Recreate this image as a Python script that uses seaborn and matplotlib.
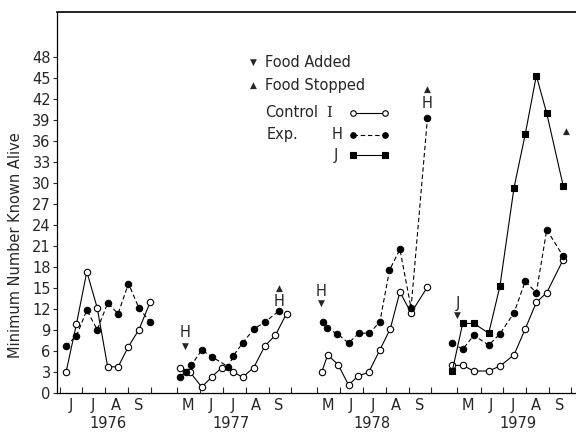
import matplotlib
matplotlib.use("Agg")
import matplotlib.pyplot as plt
import matplotlib.transforms as mtransforms
import seaborn as sns
import pandas as pd

sns.set_style("white")
plt.rcParams['font.family'] = ['DejaVu Sans']

years = [1976, 1977, 1978, 1979]
month_letters = ["M", "J", "J", "A", "S"]
yticks = list(range(0, 49, 3))

# ---- data (sampling dates MM-DD, minimum number known alive) ----
control_dates_1976 = ["06-09", "06-23", "07-07", "07-21", "08-04", "08-18", "09-01", "09-15", "09-30"]
control_1976 = [2.9, 9.8, 17.3, 12.1, 3.7, 3.7, 6.6, 9.0, 12.9]
exph_dates_1976 = ["06-09", "06-23", "07-07", "07-21", "08-04", "08-18", "09-01", "09-15", "09-30"]
exph_1976 = [6.7, 8.1, 11.8, 9.0, 12.8, 11.3, 15.6, 12.1, 10.1]

control_dates_1977 = ["05-05", "05-18", "06-03", "06-17", "06-30", "07-15", "07-28", "08-12", "08-27", "09-10", "09-25"]
control_1977 = [3.6, 3.0, 0.8, 2.3, 3.6, 3.0, 2.2, 3.6, 6.7, 8.2, 11.3]
exph_dates_1977 = ["05-05", "05-13", "05-20", "06-03", "06-17", "07-09", "07-15", "07-28", "08-12", "08-27", "09-15"]
exph_1977 = [2.3, 3.0, 3.9, 6.1, 5.1, 3.7, 5.2, 7.1, 9.1, 10.1, 11.7]

control_dates_1978 = ["05-07", "05-15", "05-29", "06-12", "06-25", "07-09", "07-24", "08-07", "08-20", "09-04", "09-26"]
control_1978 = [3.0, 5.4, 4.0, 1.1, 2.4, 2.9, 6.1, 9.1, 14.4, 11.4, 15.1]
exph_dates_1978 = ["05-08", "05-14", "05-28", "06-12", "06-26", "07-10", "07-24", "08-06", "08-20", "09-04", "09-26"]
exph_1978 = [10.1, 9.2, 8.4, 7.1, 8.5, 8.5, 10.1, 17.5, 20.5, 12.1, 39.2]

dates_1979 = ["04-24", "05-08", "05-23", "06-12", "06-27", "07-16", "07-31", "08-15", "08-29", "09-20"]
control_1979 = [3.9, 3.9, 3.1, 3.1, 3.8, 5.4, 9.1, 12.9, 14.3, 19.0]
exph_1979 = [7.1, 6.2, 8.2, 6.8, 8.4, 11.4, 15.9, 14.3, 23.3, 19.5]
expj_1979 = [3.1, 9.9, 9.9, 8.5, 15.2, 29.3, 36.9, 45.3, 39.9, 29.6]

# food events: grid, year, date, kind ("added"/"stopped"), label y, arrow y
event_grid = ["H", "H", "H", "H", "J", ""]
event_year = [1977, 1977, 1978, 1978, 1979, 1979]
event_date = ["05-12", "09-15", "05-06", "09-26", "05-01", "09-24"]
event_kind = ["added", "stopped", "added", "stopped", "added", "stopped"]
event_label_y = [8.6, 13.1, 14.4, 41.3, 12.8, None]
event_arrow_y = [6.6, 14.9, 12.7, 43.4, 11.1, 37.4]

year_label_dates = ["08-04", "07-13", "07-14", "07-21"]

YEAR_SPAN = 188.4  # axis days allotted per field season


def xpos(year, mmdd):
    d = pd.Timestamp(f"{year}-{mmdd}")
    return years.index(year) * YEAR_SPAN + (d - pd.Timestamp(f"{year}-05-01")).days


# ---- build long table ----
rows = []
def add(series, year, dates, vals):
    for d, v in zip(dates, vals):
        rows.append(dict(series=series, year=year, x=xpos(year, d), value=v))

add("Control I", 1976, control_dates_1976, control_1976)
add("Exp. H", 1976, exph_dates_1976, exph_1976)
add("Control I", 1977, control_dates_1977, control_1977)
add("Exp. H", 1977, exph_dates_1977, exph_1977)
add("Control I", 1978, control_dates_1978, control_1978)
add("Exp. H", 1978, exph_dates_1978, exph_1978)
add("Control I", 1979, dates_1979, control_1979)
add("Exp. H", 1979, dates_1979, exph_1979)
add("Exp. J", 1979, dates_1979, expj_1979)
df = pd.DataFrame(rows)

styles = {
    "Control I": dict(marker="o", markersize=4.6, markerfacecolor="white", linestyle="-"),
    "Exp. H": dict(marker="o", markersize=4.6, markerfacecolor="black", linestyle=(0, (4, 2.5))),
    "Exp. J": dict(marker="s", markersize=4.6, markerfacecolor="black", linestyle="-"),
}

fig = plt.figure(figsize=(5.76, 4.33), dpi=100)
ax = fig.add_axes([57 / 576, (433 - 392.7) / 433, (576 - 57) / 576, 380.7 / 433])

for (series, year), sub in df.groupby(["series", "year"], sort=False):
    sns.lineplot(data=sub, x="x", y="value", ax=ax, color="black", lw=0.8,
                 markeredgecolor="black", markeredgewidth=0.8,
                 sort=False, estimator=None, zorder=3, **styles[series])

# y axis
ax.set_yticks(yticks)
ax.set_yticklabels([str(t) for t in yticks], fontsize=10.5)
ax.tick_params(axis="y", direction="out", length=3, width=0.8, pad=1.5, left=True)
ax.set_ylabel("Minimum Number Known Alive", fontsize=10.5)
ax.yaxis.set_label_coords(-0.066, 0.388)

# x axis: month boundaries as ticks, month letters at mid-month
major = []
minor = []
minor_labels = []
for y in years:
    for m in range(5, 11):
        major.append(xpos(y, f"{m:02d}-01"))
    for m, lab in zip(range(5, 10), month_letters):
        minor.append(xpos(y, f"{m:02d}-15"))
        minor_labels.append(lab)
ax.set_xticks(major)
ax.set_xticklabels([])
ax.set_xticks(minor, minor=True)
ax.set_xticklabels(minor_labels, minor=True, fontsize=10.5)
ax.tick_params(axis="x", which="major", direction="in", length=4, width=0.8, bottom=True)
ax.tick_params(axis="x", which="minor", length=0, pad=4, bottom=True)
ax.set_xlabel("")

# limits after ticks (set_ticks can widen the view)
ax.set_xlim(26.9, 724.5)
ax.set_ylim(0, 54.4)

trans = mtransforms.blended_transform_factory(ax.transData, ax.transAxes)
for y, d in zip(years, year_label_dates):
    ax.text(xpos(y, d), -0.08, str(y), transform=trans, ha="center", va="center", fontsize=10.5)

# spines
for s in ["left", "bottom", "top"]:
    ax.spines[s].set_visible(True)
    ax.spines[s].set_color("black")
    ax.spines[s].set_linewidth(0.9)
ax.spines["right"].set_visible(False)
ax.spines["top"].set_linewidth(1.2)

# food events
for g, yr, d, k, ly, ay in zip(event_grid, event_year, event_date, event_kind,
                                event_label_y, event_arrow_y):
    x = xpos(yr, d)
    glyph = "\u25BC" if k == "added" else "\u25B2"
    ax.text(x, ay, glyph, ha="center", va="center", fontsize=6.5)
    if ly is not None and g:
        ax.text(x, ly, g, ha="center", va="center", fontsize=10.5)

# legend block (axes fraction)
fs = 10.5
ax.text(0.378, 0.867, "\u25BC", transform=ax.transAxes, ha="center", va="center", fontsize=6.5)
ax.text(0.401, 0.867, "Food Added", transform=ax.transAxes, ha="left", va="center", fontsize=fs)
ax.text(0.378, 0.808, "\u25B2", transform=ax.transAxes, ha="center", va="center", fontsize=6.5)
ax.text(0.401, 0.808, "Food Stopped", transform=ax.transAxes, ha="left", va="center", fontsize=fs)
ax.text(0.401, 0.7355, "Control", transform=ax.transAxes, ha="left", va="center", fontsize=fs)
ax.text(0.525, 0.7355, "I", transform=ax.transAxes, ha="center", va="center", fontsize=fs,
        family="DejaVu Serif")
ax.text(0.404, 0.677, "Exp.", transform=ax.transAxes, ha="left", va="center", fontsize=fs)
ax.text(0.539, 0.677, "H", transform=ax.transAxes, ha="center", va="center", fontsize=fs)
ax.text(0.538, 0.624, "J", transform=ax.transAxes, ha="center", va="center", fontsize=fs)
key_rows = [("Control I", 0.7355), ("Exp. H", 0.677), ("Exp. J", 0.624)]
for series, yy in key_rows:
    st = dict(styles[series])
    ax.plot([0.571, 0.632], [yy, yy], transform=ax.transAxes, color="black", lw=0.8,
            markeredgecolor="black", markeredgewidth=0.8, clip_on=False,
            **{k: v for k, v in st.items() if k != "markersize"}, markersize=4)

fig.savefig("out.png", dpi=100)
